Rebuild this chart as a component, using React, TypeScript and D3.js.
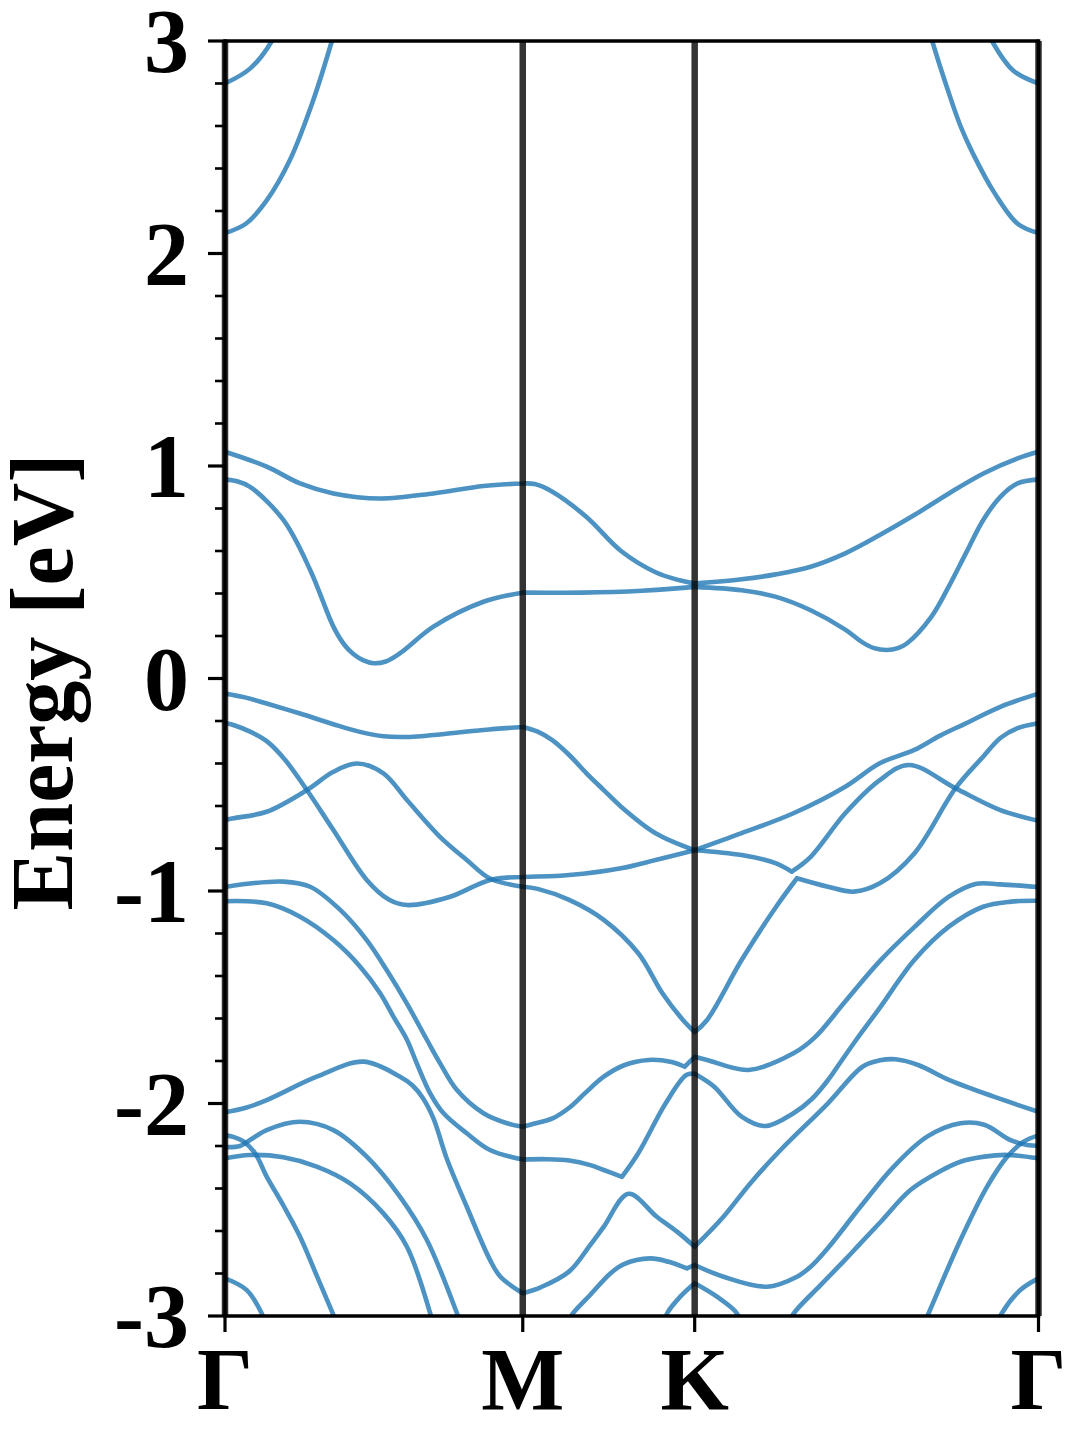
import React from "react";
import * as d3 from "d3";

type P = [number, number];

// High-symmetry path (distance units, Γ-M = 1)
const kPoints = [0, 1, 1.5774, 2.7321];
const kLabels = ["Γ", "M", "K", "Γ"];
const yMajor = [-3, -2, -1, 0, 1, 2, 3];
const yLabels = ["-3", "-2", "-1", "0", "1", "2", "3"];

// Bands: each band is a list of smooth pieces of [k, E] points
const bandA: P[][] = [
  [[0, 2.096], [0.07, 2.14], [0.14, 2.25], [0.218, 2.44], [0.296, 2.72], [0.359, 3.0], [0.4, 3.2]],
  [[2.33, 3.22], [2.375, 3.0], [2.425, 2.78], [2.47, 2.6], [2.512, 2.47], [2.582, 2.29], [2.662, 2.14], [2.732, 2.096]],
];
const bandB: P[][] = [
  [[0, 2.8], [0.084, 2.87], [0.157, 3.0], [0.2, 3.15]],
  [[2.53, 3.15], [2.576, 3.0], [2.648, 2.86], [2.732, 2.8]],
];
const bandC: P[][] = [
  [[0, 1.067], [0.14, 0.997], [0.252, 0.918], [0.364, 0.871], [0.521, 0.847], [0.7, 0.871], [0.868, 0.906], [1.0, 0.918]],
  [[1.0, 0.918], [1.04, 0.915], [1.098, 0.88], [1.214, 0.76], [1.33, 0.6], [1.446, 0.5], [1.527, 0.462], [1.5774, 0.447]],
  [[1.5774, 0.447], [1.735, 0.467], [1.85, 0.49], [1.967, 0.526], [2.083, 0.589], [2.199, 0.675], [2.315, 0.769], [2.431, 0.871], [2.547, 0.965], [2.662, 1.036], [2.732, 1.067]],
];
const bandD: P[][] = [
  [[0, 0.937], [0.04, 0.928], [0.084, 0.902], [0.196, 0.746], [0.286, 0.511], [0.364, 0.244], [0.4, 0.16], [0.431, 0.115], [0.465, 0.085], [0.498, 0.072], [0.54, 0.08], [0.588, 0.119], [0.7, 0.244], [0.868, 0.361], [1.0, 0.404]],
  [[1.0, 0.404], [1.2, 0.404], [1.4, 0.413], [1.5774, 0.431]],
  [[1.5774, 0.431], [1.735, 0.415], [1.851, 0.384], [1.967, 0.321], [2.083, 0.23], [2.141, 0.17], [2.18, 0.143], [2.222, 0.134], [2.26, 0.143], [2.291, 0.166], [2.372, 0.29], [2.43, 0.431], [2.488, 0.589], [2.546, 0.745], [2.604, 0.855], [2.662, 0.918], [2.732, 0.937]],
];
const bandE: P[][] = [
  [[0, -0.071], [0.07, -0.09], [0.14, -0.118], [0.252, -0.165], [0.364, -0.215], [0.45, -0.25], [0.532, -0.272], [0.62, -0.275], [0.7, -0.266], [0.868, -0.242], [1.0, -0.228]],
  [[1.0, -0.228], [1.05, -0.25], [1.098, -0.289], [1.156, -0.36], [1.214, -0.446], [1.272, -0.525], [1.33, -0.603], [1.446, -0.728], [1.5774, -0.808]],
  [[1.5774, -0.808], [1.735, -0.728], [1.909, -0.634], [2.083, -0.509], [2.199, -0.399], [2.315, -0.336], [2.4, -0.27], [2.488, -0.211], [2.604, -0.133], [2.732, -0.071]],
];
const bandF: P[][] = [
  [[0, -0.209], [0.028, -0.219], [0.084, -0.25], [0.14, -0.295], [0.2, -0.38], [0.275, -0.525], [0.364, -0.713], [0.476, -0.948], [0.55, -1.04], [0.611, -1.066], [0.756, -1.027], [0.89, -0.948], [1.0, -0.934]],
  [[1.0, -0.934], [1.156, -0.925], [1.33, -0.893], [1.446, -0.854], [1.5774, -0.808]],
  [[1.5774, -0.808], [1.735, -0.831], [1.851, -0.87], [1.903, -0.909]],
  [[1.903, -0.909], [1.967, -0.839], [2.083, -0.634], [2.199, -0.478], [2.297, -0.407], [2.454, -0.517], [2.604, -0.619], [2.732, -0.67]],
];
const bandG: P[][] = [
  [[0, -0.667], [0.028, -0.658], [0.14, -0.627], [0.275, -0.525], [0.364, -0.439], [0.443, -0.4], [0.532, -0.446], [0.611, -0.572], [0.722, -0.745], [0.812, -0.854], [0.89, -0.941], [1.0, -0.98]],
  [[1.0, -0.98], [1.05, -0.99], [1.156, -1.042], [1.272, -1.136], [1.388, -1.293], [1.469, -1.481], [1.538, -1.607], [1.5774, -1.664]],
  [[1.5774, -1.664], [1.619, -1.607], [1.735, -1.325], [1.851, -1.074], [1.921, -0.94]],
  [[1.921, -0.94], [2.025, -0.98], [2.112, -1.003], [2.199, -0.964], [2.315, -0.823], [2.453, -0.517], [2.546, -0.368], [2.604, -0.28], [2.662, -0.234], [2.732, -0.211]],
];
const bandJ: P[][] = [
  [[0, -0.981], [0.084, -0.965], [0.196, -0.956], [0.286, -0.98], [0.387, -1.089], [0.476, -1.231], [0.543, -1.372], [0.611, -1.53], [0.678, -1.7], [0.722, -1.81], [0.779, -1.937], [0.868, -2.046], [0.947, -2.093], [1.0, -2.109]],
  [[1.0, -2.109], [1.04, -2.094], [1.1, -2.07], [1.156, -2.02], [1.21, -1.95], [1.272, -1.874], [1.34, -1.82], [1.422, -1.795], [1.5, -1.805], [1.544, -1.827]],
  [[1.544, -1.827], [1.5774, -1.78]],
  [[1.5774, -1.78], [1.619, -1.795], [1.758, -1.842], [1.909, -1.764], [1.98, -1.69], [2.083, -1.52], [2.199, -1.33], [2.315, -1.17], [2.43, -1.028], [2.524, -0.966], [2.604, -0.969], [2.732, -0.981]],
];
const bandK: P[][] = [
  [[0, -1.048], [0.14, -1.058], [0.252, -1.121], [0.364, -1.231], [0.454, -1.356], [0.521, -1.481], [0.566, -1.592], [0.611, -1.7], [0.644, -1.811], [0.689, -1.952], [0.734, -2.046], [0.812, -2.14], [0.89, -2.219], [1.0, -2.264]],
  [[1.0, -2.264], [1.08, -2.262], [1.156, -2.268], [1.227, -2.29], [1.272, -2.313], [1.333, -2.345]],
  [[1.333, -2.345], [1.388, -2.234], [1.48, -1.999], [1.549, -1.866], [1.5774, -1.86]],
  [[1.5774, -1.86], [1.643, -1.921], [1.735, -2.062], [1.816, -2.106], [1.909, -2.046], [1.97, -1.98], [2.025, -1.89], [2.07, -1.8], [2.12, -1.7], [2.199, -1.55], [2.315, -1.325], [2.431, -1.168], [2.546, -1.074], [2.64, -1.05], [2.732, -1.046]],
];
const bandL: P[][] = [
  [[0, -2.041], [0.07, -2.02], [0.14, -1.984], [0.308, -1.874], [0.465, -1.803], [0.588, -1.874], [0.63, -1.915], [0.665, -1.975], [0.7, -2.07], [0.745, -2.26], [0.812, -2.486], [0.89, -2.736], [0.925, -2.815], [1.0, -2.893]],
  [[1.0, -2.893], [1.06, -2.865], [1.156, -2.79], [1.227, -2.665], [1.272, -2.58], [1.355, -2.425], [1.45, -2.533], [1.518, -2.603], [1.5774, -2.674]],
  [[1.5774, -2.674], [1.674, -2.533], [1.764, -2.376], [1.865, -2.22], [2.025, -1.999], [2.141, -1.827], [2.2, -1.797], [2.251, -1.792], [2.33, -1.82], [2.431, -1.889], [2.582, -1.968], [2.732, -2.039]],
];
const bandP: P[][] = [
  [[0, -2.205], [0.05, -2.2], [0.084, -2.172], [0.14, -2.125], [0.252, -2.086], [0.364, -2.125], [0.476, -2.25], [0.588, -2.439], [0.678, -2.642], [0.779, -2.987], [0.8, -3.07]],
];
const bandQ: P[][] = [
  [[0, -2.15], [0.03, -2.158], [0.062, -2.178], [0.101, -2.234], [0.14, -2.344], [0.196, -2.48], [0.252, -2.627], [0.308, -2.81], [0.364, -2.995], [0.38, -3.05]],
];
const bandR: P[][] = [
  [[0, -2.258], [0.084, -2.242], [0.196, -2.253], [0.308, -2.297], [0.42, -2.376], [0.532, -2.517], [0.611, -2.674], [0.689, -2.987], [0.7, -3.05]],
];
const bandN: P[][] = [
  [[0, -2.823], [0.073, -2.878], [0.123, -2.987], [0.14, -3.05]],
  [[2.59, -3.05], [2.609, -2.987], [2.671, -2.878], [2.732, -2.823]],
];
const bandS: P[][] = [
  [[1.15, -3.03], [1.167, -2.99], [1.227, -2.9], [1.294, -2.8], [1.338, -2.757], [1.428, -2.729], [1.49, -2.745], [1.551, -2.776]],
  [[1.551, -2.776], [1.5774, -2.76]],
  [[1.5774, -2.76], [1.674, -2.815], [1.82, -2.862], [1.921, -2.815], [1.967, -2.768], [2.025, -2.68], [2.134, -2.486], [2.246, -2.297], [2.358, -2.156], [2.47, -2.093], [2.55, -2.1], [2.638, -2.172], [2.694, -2.195], [2.732, -2.199]],
];
const bandT: P[][] = [
  [[1.47, -3.05], [1.485, -2.987], [1.529, -2.909], [1.5774, -2.846]],
  [[1.5774, -2.846], [1.652, -2.909], [1.719, -2.987], [1.735, -3.05]],
];
const bandU: P[][] = [
  [[1.89, -3.05], [1.909, -2.99], [2.0, -2.855], [2.083, -2.735], [2.134, -2.658], [2.2, -2.56], [2.302, -2.407], [2.4, -2.32], [2.47, -2.274], [2.55, -2.25], [2.627, -2.242], [2.732, -2.258]],
];
const bandV: P[][] = [
  [[2.34, -3.06], [2.363, -2.987], [2.47, -2.642], [2.559, -2.392], [2.627, -2.25], [2.682, -2.18], [2.732, -2.15]],
];

const bands = [bandA, bandB, bandC, bandD, bandE, bandF, bandG, bandJ, bandK, bandL, bandP, bandQ, bandR, bandN, bandS, bandT, bandU, bandV];

const FONT = "'Liberation Serif', 'Times New Roman', serif";

export default function App() {
  const left = 225, right = 1038.5, top = 41, bottom = 1316;
  const x = d3.scaleLinear().domain([0, 2.7321]).range([left, right]);
  const y = d3.scaleLinear().domain([-3, 3]).range([bottom, top]);
  const line = d3
    .line<P>()
    .x((d) => x(d[0]))
    .y((d) => y(d[1]))
    .curve(d3.curveCatmullRom.alpha(0.5));
  const minor = y.ticks(30).filter((v) => Math.abs(v - Math.round(v)) > 1e-6);

  return (
    <svg width={1080} height={1440} style={{ position: "absolute", left: 0, top: 0, background: "#fff" }}>
      <defs>
        <clipPath id="plot">
          <rect x={left} y={top} width={right - left} height={bottom - top} />
        </clipPath>
      </defs>
      <g clipPath="url(#plot)">
        {bands.map((pieces, i) => (
          <path
            key={i}
            d={pieces.map((p) => line(p) || "").join("")}
            fill="none"
            stroke="#1f77b4"
            strokeOpacity={0.8}
            strokeWidth={4.6}
            strokeLinejoin="round"
            strokeLinecap="round"
          />
        ))}
      </g>
      {kPoints.map((k, i) => (
        <line key={"v" + i} x1={x(k)} x2={x(k)} y1={top} y2={bottom} stroke="#000" strokeOpacity={0.8} strokeWidth={6.5} />
      ))}
      {/* spines */}
      <line x1={left} x2={left} y1={top - 1.75} y2={bottom + 1.75} stroke="#000" strokeWidth={3.5} />
      <line x1={right} x2={right} y1={top - 1.75} y2={bottom + 1.75} stroke="#000" strokeWidth={3.5} />
      <line x1={left} x2={right} y1={top} y2={top} stroke="#000" strokeWidth={3.5} />
      <line x1={left} x2={right} y1={bottom} y2={bottom} stroke="#000" strokeWidth={3.5} />
      {/* y ticks */}
      {minor.map((v, i) => (
        <line key={"m" + i} x1={left - 10} x2={left} y1={y(v)} y2={y(v)} stroke="#000" strokeWidth={2.6} />
      ))}
      {yMajor.map((v, i) => (
        <g key={"y" + i}>
          <line x1={left - 17} x2={left} y1={y(v)} y2={y(v)} stroke="#000" strokeWidth={3.2} />
          <text x={189} y={y(v) + 31} textAnchor="end" fontFamily={FONT} fontWeight="bold" fontSize={90}>
            {yLabels[i]}
          </text>
        </g>
      ))}
      {/* x ticks */}
      {kPoints.map((k, i) => (
        <g key={"x" + i}>
          <line x1={x(k)} x2={x(k)} y1={bottom} y2={bottom + 16} stroke="#000" strokeWidth={3.2} />
          <text x={x(k)} y={1409} textAnchor="middle" fontFamily={FONT} fontWeight="bold" fontSize={88}>
            {kLabels[i]}
          </text>
        </g>
      ))}
      <text
        transform={`translate(72, 682) rotate(-90)`}
        textAnchor="middle"
        fontFamily={FONT}
        fontWeight="bold"
        fontSize={88}
      >
        Energy [eV]
      </text>
    </svg>
  );
}
